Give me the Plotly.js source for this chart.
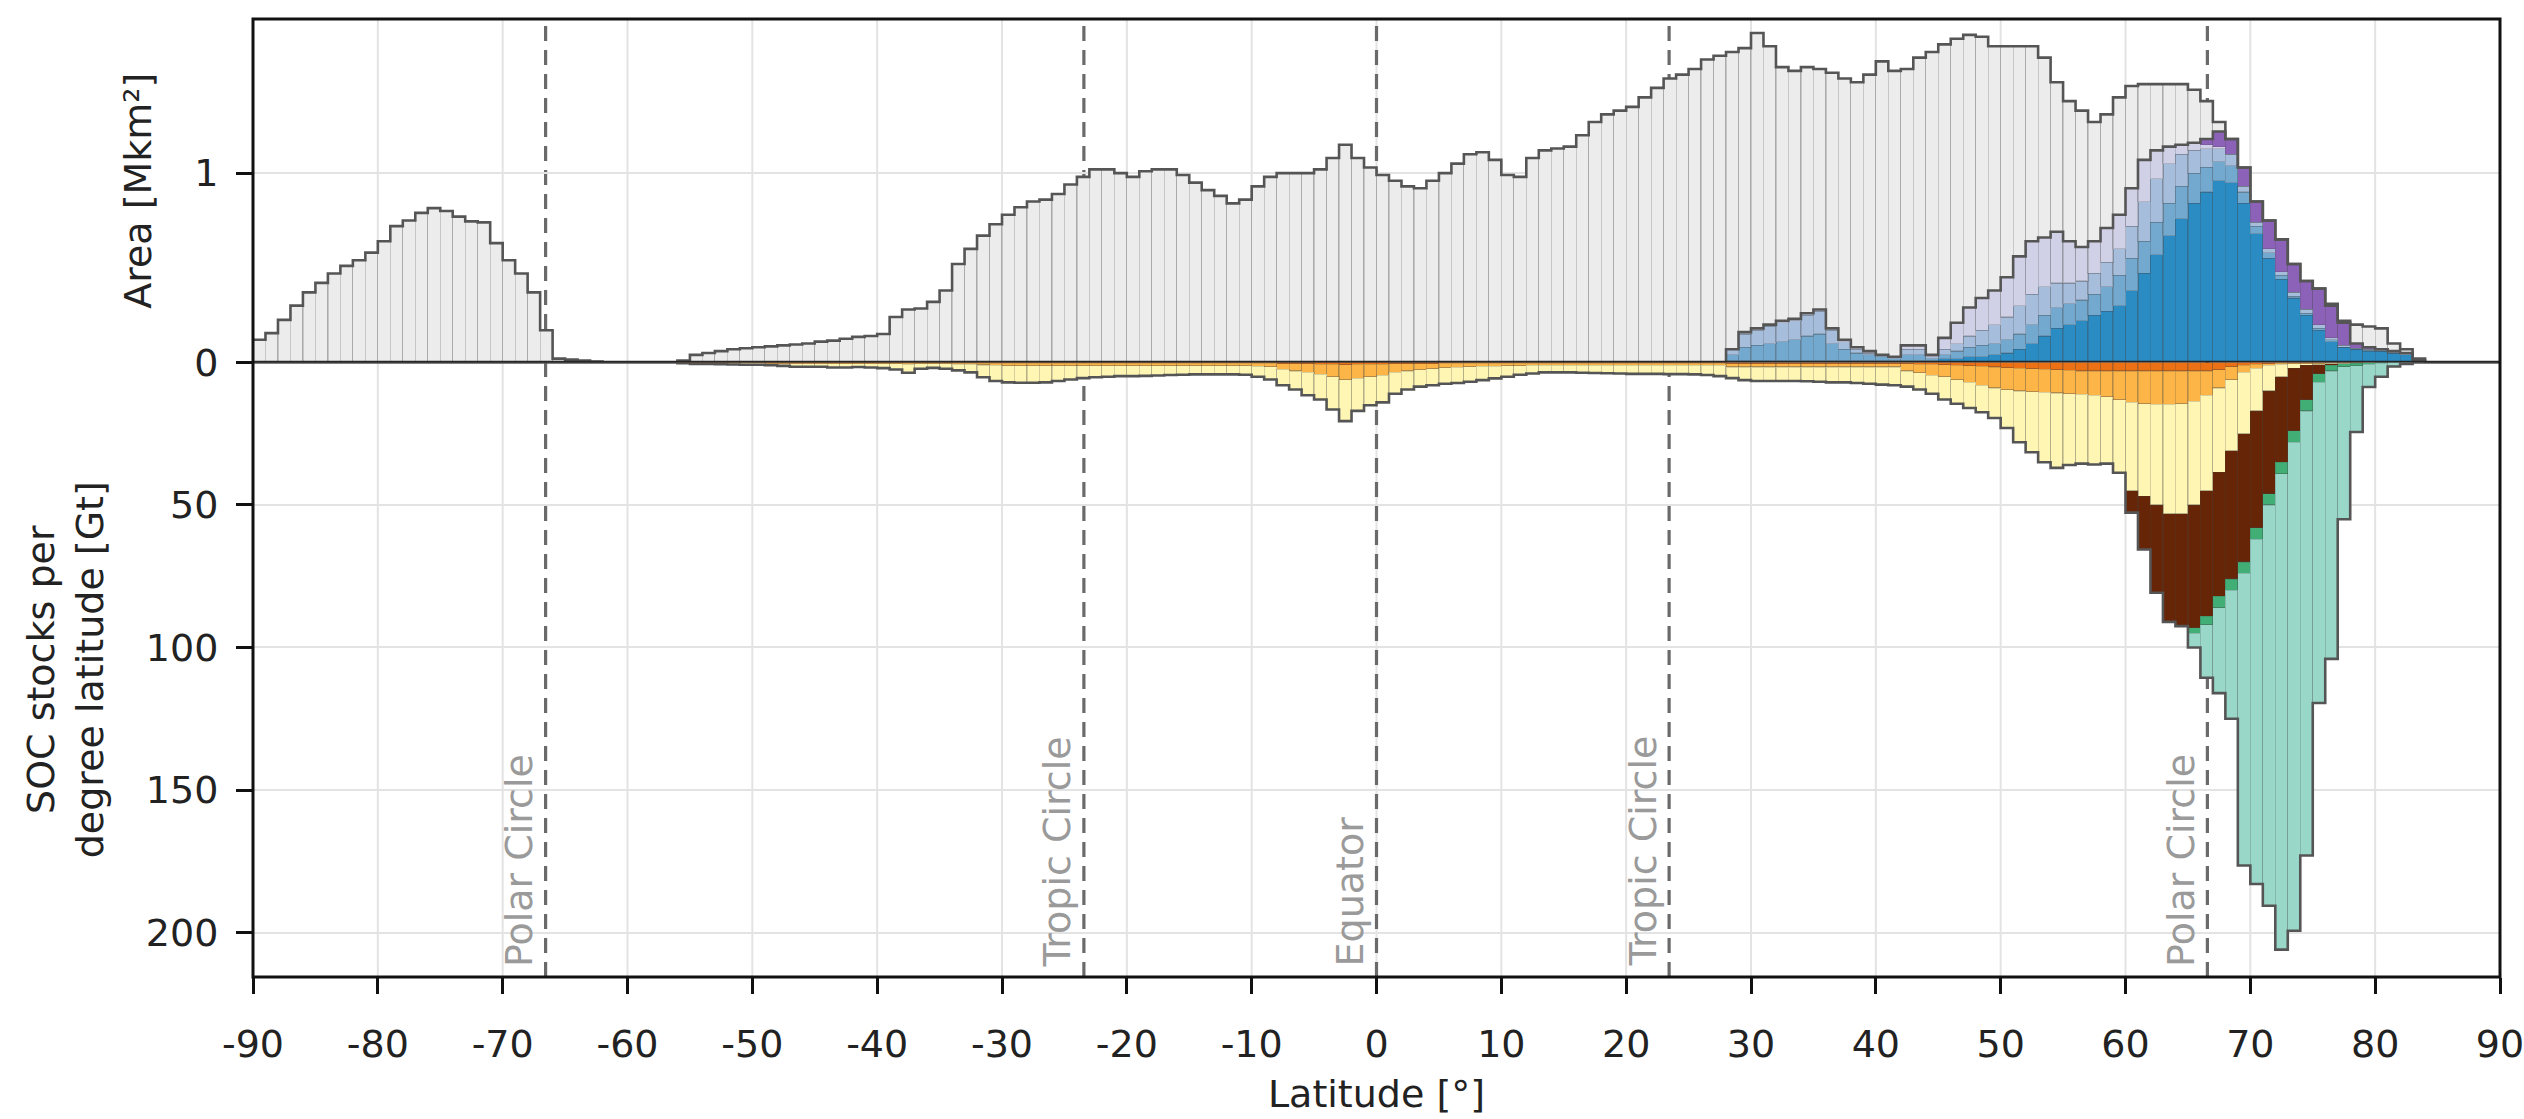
<!DOCTYPE html>
<html>
<head>
<meta charset="utf-8">
<script src="https://cdn.plot.ly/plotly-3.0.1.min.js"></script>
<style>
html,body{margin:0;padding:0;background:#ffffff;}
#chart{width:2524px;height:1119px;}
</style>
</head>
<body>
<div id="chart"></div>
<script>
// ---------------- DATA ----------------
// Land area per 1-degree latitude bin [Mkm²], bins -90..89
const landLatStart = -90;
const landArea = [
  0.12, 0.155, 0.225, 0.30, 0.37, 0.42, 0.47, 0.51, 0.54, 0.58,
  0.64, 0.72, 0.75, 0.79, 0.815, 0.80, 0.77, 0.745, 0.74, 0.63,
  0.54, 0.47, 0.37, 0.17, 0.02, 0.015, 0.01, 0.005, 0, 0,
  0, 0, 0, 0, 0.01, 0.04, 0.05, 0.06, 0.07, 0.075,
  0.08, 0.085, 0.09, 0.095, 0.10, 0.11, 0.115, 0.125, 0.135, 0.14,
  0.15, 0.24, 0.28, 0.285, 0.32, 0.38, 0.52, 0.60, 0.67, 0.73,
  0.78, 0.82, 0.85, 0.86, 0.89, 0.94, 0.98, 1.02, 1.02, 1.00,
  0.98, 1.01, 1.02, 1.02, 0.99, 0.95, 0.91, 0.88, 0.84, 0.86,
  0.93, 0.98, 1.00, 1.00, 1.00, 1.02, 1.08, 1.15, 1.08, 1.03,
  0.99, 0.96, 0.93, 0.92, 0.96, 1.00, 1.05, 1.10, 1.11, 1.07,
  0.99, 0.98, 1.08, 1.12, 1.13, 1.14, 1.20, 1.27, 1.31, 1.33,
  1.35, 1.40, 1.45, 1.50, 1.52, 1.55, 1.60, 1.62, 1.64, 1.66,
  1.74, 1.67, 1.56, 1.54, 1.56, 1.55, 1.53, 1.50, 1.48, 1.52,
  1.59, 1.54, 1.55, 1.61, 1.64, 1.68, 1.71, 1.73, 1.72, 1.67,
  1.67, 1.67, 1.67, 1.61, 1.48, 1.38, 1.33, 1.27, 1.31, 1.40,
  1.46, 1.47, 1.47, 1.47, 1.47, 1.44, 1.38, 1.27, 1.18, 1.03,
  0.85, 0.75, 0.65, 0.52, 0.43, 0.39, 0.31, 0.22, 0.20, 0.19,
  0.18, 0.10, 0.07, 0.02, 0, 0, 0, 0, 0, 0
];

// Permafrost-zone area per bin [Mkm²], bins 28..83
const pfLatStart = 28;
const pfContinuous = [
  0.01,0.01,0.01,0.01,0.01,0.01,0.01,0.01,0.01,0.01,0.01,0.01,0.01,0.01,0.01,0.01,0.01,
  0.02,0.02,0.03,0.03,0.04,0.05,0.07,0.10,0.14,0.18,0.20,0.22,0.25,0.27,0.30,0.38,0.47,0.57,0.67,0.76,0.84,
  0.90,0.96,0.95,0.84,0.68,0.55,0.44,0.34,0.25,0.17,0.11,0.08,0.07,0.06,0.06,0.05,0.04,0.01
];
const pfDiscontinuous = [
  0.03,0.07,0.08,0.09,0.10,0.11,0.13,0.14,0.09,0.06,0.04,0.03,0.02,0.01,0.03,0.03,0.01,
  0.02,0.04,0.05,0.06,0.06,0.07,0.08,0.10,0.11,0.11,0.11,0.11,0.11,0.13,0.16,0.17,0.17,0.17,0.17,0.17,0.16,
  0.13,0.10,0.09,0.06,0.04,0.03,0.02,0.01,0.01,0.01,0.01,0,0,0.005,0,0,0,0
];
const pfSporadic = [
  0.03,0.07,0.08,0.09,0.10,0.10,0.11,0.12,0.07,0.04,0.02,0.01,0.01,0.01,0.03,0.03,0.01,
  0.03,0.04,0.06,0.08,0.10,0.12,0.15,0.16,0.15,0.13,0.11,0.10,0.11,0.13,0.14,0.17,0.21,0.23,0.21,0.17,0.12,
  0.10,0.07,0.06,0.03,0.02,0.02,0.02,0.02,0.02,0.02,0.01,0.01,0.005,0.005,0.005,0.005,0.005,0
];
const pfIsolated = [
  0,0.01,0.01,0.01,0.01,0.01,0.01,0.01,0.01,0.01,0.01,0.01,0,0,0.02,0.02,0.01,
  0.06,0.11,0.15,0.17,0.18,0.21,0.26,0.28,0.26,0.27,0.22,0.18,0.17,0.18,0.18,0.20,0.22,0.15,0.09,0.05,0.04,
  0.02,0.01,0,0,0,0,0,0,0,0,0,0,0,0,0.005,0.005,0.005,0
];
const pfOther = [
  0,0,0,0,0,0,0,0,0,0,0,0,0,0,0,0,0,
  0,0,0,0,0,0,0,0,0,0,0,0,0,0,0,0,0,0,0,0,0,
  0.03,0.08,0.08,0.10,0.11,0.15,0.17,0.15,0.15,0.19,0.17,0.12,0.025,0.01,0,0,0,0
];

// SOC stocks per bin [Gt], bins -56..82
const socLatStart = -56;
const socDarkOrange = [
  0.15,0.15,0.15,0.15,0.15,0.15,0.15,0.2,0.2,0.2,
  0.2,0.2,0.2,0.2,0.2,0.2,0.2,0.2,0.2,0.2,
  0.2,0.2,0.2,0.2,0.3,0.3,0.3,0.3,0.3,0.3,
  0.3,0.3,0.3,0.3,0.3,0.3,0.3,0.3,0.3,0.3,
  0.3,0.3,0.3,0.3,0.3,0.3,0.3,0.3,0.4,0.5,
  0.5,0.6,0.7,0.8,0.7,0.7,0.6,0.5,0.5,0.4,
  0.4,0.3,0.3,0.3,0.3,0.3,0.3,0.3,0.3,0.3,
  0.3,0.3,0.3,0.3,0.3,0.3,0.3,0.3,0.3,0.3,
  0.3,0.3,0.3,0.3,0.4,0.4,0.4,0.4,0.4,0.4,
  0.4,0.4,0.4,0.4,0.4,0.4,0.4,0.4,0.5,0.6,
  0.7,0.8,1.0,1.2,1.4,1.6,1.8,2.0,2.2,2.4,
  2.6,2.8,3,3,3,3,3,3,3,3,
  3,3,3,2.5,1.5,1,0.6,0.4,0.3,0.2,
  0.2,0.2,0.1,0.1,0.1,0,0,0,0
];
const socOrange = [
  0.1,0.15,0.15,0.15,0.15,0.15,0.15,0.3,0.3,0.3,
  0.3,0.3,0.3,0.3,0.3,0.3,0.3,0.3,0.4,0.3,
  0.3,0.3,0.4,0.5,0.6,0.7,0.8,0.8,0.8,0.8,
  0.8,0.8,0.8,0.8,0.8,0.8,0.8,0.8,0.8,0.8,
  0.8,0.8,0.8,0.8,0.8,0.8,1.0,1.2,2.0,2.5,
  3.0,3.5,4.3,5.2,4.8,4.3,3.9,3.0,2.5,2.1,
  1.8,1.5,1.4,1.2,1.1,1.0,0.9,0.8,0.7,0.7,
  0.7,0.7,0.7,0.7,0.7,0.7,0.7,0.7,0.7,0.7,
  0.7,0.7,0.7,0.7,1.2,1.2,1.2,1.2,1.2,1.2,
  1.2,1.2,1.2,1.2,1.2,1.2,1.2,1.2,2.5,3.0,
  3.8,4.2,5.0,5.8,6.6,7.4,7.7,8.0,8.0,8.1,
  8.1,8.2,8.2,8.5,9.0,10.0,11.0,11.5,11.7,11.7,
  11.5,10.6,8.5,6.5,4.5,2.5,1.4,0.6,0.3,0.2,
  0.2,0.2,0.1,0.1,0,0,0,0,0
];
const socYellow = [
  0.05,0.2,0.2,0.3,0.4,0.5,0.5,0.5,0.7,1.0,
  1.0,1.0,1.3,1.3,1.1,1.3,1.5,2.0,3.0,1.7,
  1.4,1.7,2.2,2.8,4.3,5.5,5.9,6.0,6.0,5.9,
  5.4,4.9,4.4,4.1,3.9,3.7,3.7,3.6,3.5,3.3,
  3.2,3.1,3.1,3.1,3.1,3.2,3.7,4.5,5.6,6.5,
  8.0,8.9,11.5,14.6,11.5,10.0,9.5,7.5,6.5,6.0,
  5.8,5.7,5.5,5.3,4.8,4.3,3.8,3.2,2.9,2.5,
  2.5,2.5,2.6,2.7,2.8,2.9,3.0,3.0,3.0,3.1,
  3.1,3.2,3.4,3.8,3.9,4.6,4.9,4.9,4.9,4.9,
  5.0,5.2,5.4,5.4,5.6,5.9,6.2,6.4,5.5,5.9,
  6.5,8.0,8.5,9.0,9.5,10.5,13.5,18.0,21.3,24.5,
  26.3,25.0,24.3,24.3,23.5,25.7,31,32.5,35.3,38.3,
  38.5,36.4,33.5,29.5,25,21.5,15,9,4.4,1.6,
  0.6,0.4,0.3,0.2,0.2,0.1,0,0,0
];
// Northern SOC pools per bin [Gt], bins 60..82
const socNorthStart = 60;
const socBrown = [7.7,18.6,30.8,38,39.5,43,44,43.5,45,45,41,36,30,22,12,3.2,0.5,0,0,0,0,0,0];
const socGreen = [0,0,0,0,0,2,3,4,4,4,4,4,4,4,4,3,2,1.1,0.8,0.5,0.3,0,0];
const socTeal  = [0,0,0,0,0,5,18.6,30,45,102.5,121,140.6,167,171.4,156,112.5,101,53.5,23.3,8,4.7,1.4,0.5];

// Axis ticks and reference latitudes
const xTickVals = [-90,-80,-70,-60,-50,-40,-30,-20,-10,0,10,20,30,40,50,60,70,80,90];
const xTickText = ['-90','-80','-70','-60','-50','-40','-30','-20','-10','0','10','20','30','40','50','60','70','80','90'];
const areaTickVals = [0, 1];
const socTickVals = [50, 100, 150, 200];
const circleLats = [-66.56, -23.44, 0, 23.44, 66.56];
const circleNames = ['Polar Circle', 'Tropic Circle', 'Equator', 'Tropic Circle', 'Polar Circle'];

// ---------------- HELPERS ----------------
const NBINS = 180;
function toFull(start, arr) {
  const out = new Array(NBINS).fill(0);
  arr.forEach((v, i) => { out[start - landLatStart + i] = v; });
  return out;
}
const centers = Array.from({length: NBINS}, (_, i) => landLatStart + i + 0.5);
const edges = Array.from({length: NBINS + 1}, (_, i) => landLatStart + i);
function stepY(vals) { return vals.concat([vals[vals.length - 1]]); }

const pfLayers = [pfContinuous, pfDiscontinuous, pfSporadic, pfIsolated, pfOther].map(a => toFull(pfLatStart, a));
const pfTotal = centers.map((_, i) => pfLayers.reduce((s, l) => s + l[i], 0));
const greyRest = landArea.map((v, i) => Math.max(0, v - pfTotal[i]));

const socLayers = [
  toFull(socLatStart, socDarkOrange),
  toFull(socLatStart, socOrange),
  toFull(socLatStart, socYellow),
  toFull(socNorthStart, socBrown),
  toFull(socNorthStart, socGreen),
  toFull(socNorthStart, socTeal)
];
const socTotal = centers.map((_, i) => socLayers.reduce((s, l) => s + l[i], 0));

const edgeLine = {color: 'rgba(70,70,70,0.22)', width: 1.2};
function bar(vals, color, yaxis) {
  return {type: 'bar', x: centers, y: vals, width: 1, xaxis: 'x', yaxis: yaxis,
          marker: {color: color, line: edgeLine}, hoverinfo: 'skip'};
}

const pfColors = ['#2b8cc4', '#74a9cf', '#a6bddb', '#d0d1e6', '#8c62b8'];
const socColors = ['#ec7014', '#fdb548', '#fff6b4', '#662506', '#41ae76', '#99d8c9'];

const traces = [];
pfLayers.forEach((l, k) => traces.push(bar(l, pfColors[k], 'y')));
traces.push(bar(greyRest, '#ececec', 'y'));
socLayers.forEach((l, k) => traces.push(bar(l, socColors[k], 'y2')));

const outline = {color: '#555555', width: 2.6, shape: 'hv'};
traces.push({type: 'scatter', mode: 'lines', x: edges, y: stepY(landArea), xaxis: 'x', yaxis: 'y', line: outline, hoverinfo: 'skip'});
traces.push({type: 'scatter', mode: 'lines', x: edges, y: stepY(pfTotal), xaxis: 'x', yaxis: 'y', line: outline, hoverinfo: 'skip'});
traces.push({type: 'scatter', mode: 'lines', x: edges, y: stepY(socTotal), xaxis: 'x', yaxis: 'y2', line: outline, hoverinfo: 'skip'});

// ---------------- LAYOUT ----------------
const split = 0.6415;
const gridColor = '#e3e3e3';
const FONT = 'DejaVu Sans, Verdana, sans-serif';

const shapes = [];
// vertical grid lines (behind everything)
xTickVals.forEach(v => {
  shapes.push({type: 'line', xref: 'x', yref: 'paper', x0: v, x1: v, y0: 0, y1: 1,
               line: {color: gridColor, width: 2}, layer: 'below'});
});
// reference circles
circleLats.forEach(lat => {
  shapes.push({type: 'line', xref: 'x', yref: 'paper', x0: lat, x1: lat, y0: 0, y1: 1,
               line: {color: '#6a6a6a', width: 3.2, dash: '15px,9px'}, layer: 'below'});
});
shapes.push({type: 'line', xref: 'paper', yref: 'y', x0: 0, x1: 1, y0: 0, y1: 0,
             line: {color: '#262626', width: 3.5}, layer: 'above'});
shapes.push({type: 'rect', xref: 'paper', yref: 'paper', x0: 0, x1: 1, y0: 0, y1: 1,
             line: {color: '#111111', width: 3}, layer: 'above'});

const annotations = circleLats.map((lat, i) => ({
  x: lat, xref: 'x', y: 0, yref: 'paper', text: circleNames[i], showarrow: false,
  textangle: -90, xanchor: 'center', yanchor: 'bottom', xshift: -27, yshift: 8,
  font: {family: FONT, size: 38, color: '#9a9a9a'}
}));

const layout = {
  width: 2524, height: 1119,
  margin: {l: 253, r: 24, t: 19, b: 142, pad: 0},
  paper_bgcolor: '#ffffff', plot_bgcolor: 'rgba(0,0,0,0)',
  barmode: 'stack', bargap: 0, showlegend: false, hovermode: false,
  font: {family: FONT, size: 38, color: '#222222'},
  xaxis: {
    range: [-90, 90], anchor: 'y2', tickvals: xTickVals, ticktext: xTickText,
    ticks: 'outside', ticklen: 16, tickwidth: 3, tickcolor: '#111',
    ticklabelstandoff: 17, ticklabeloverflow: 'allow',
    showgrid: false, zeroline: false, showline: false,
    tickfont: {family: FONT, size: 38, color: '#222'},
    title: {text: 'Latitude [°]', font: {family: FONT, size: 38, color: '#222'}, standoff: 15}
  },
  yaxis: {
    domain: [split, 1], range: [0, 1.814], tickvals: areaTickVals, ticktext: ['0', '1'],
    ticks: 'outside', ticklen: 16, tickwidth: 3, tickcolor: '#111', ticklabelstandoff: 10,
    showgrid: true, gridcolor: gridColor, gridwidth: 2, zeroline: false, showline: false,
    tickfont: {family: FONT, size: 38, color: '#222'},
    title: {text: 'Area [Mkm²]', font: {family: FONT, size: 38, color: '#222'}, standoff: 30}
  },
  yaxis2: {
    domain: [0, split], range: [215.6, 0], tickvals: socTickVals,
    ticks: 'outside', ticklen: 16, tickwidth: 3, tickcolor: '#111', ticklabelstandoff: 10,
    showgrid: true, gridcolor: gridColor, gridwidth: 2, zeroline: false, showline: false,
    tickfont: {family: FONT, size: 38, color: '#222'},
    title: {text: 'SOC stocks per<br>degree latitude [Gt]', font: {family: FONT, size: 38, color: '#222'}, standoff: 30}
  },
  shapes: shapes,
  annotations: annotations
};

Plotly.newPlot('chart', traces, layout, {staticPlot: true, displayModeBar: false});
</script>
</body>
</html>
